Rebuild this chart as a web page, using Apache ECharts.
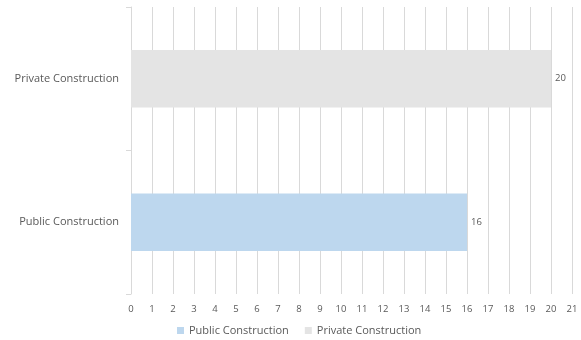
<!DOCTYPE html>
<html>
<head>
<meta charset="utf-8">
<script src="https://cdn.jsdelivr.net/npm/echarts@6/dist/echarts.min.js"></script>
<style>
  html, body { margin: 0; padding: 0; background: #ffffff; }
  #chart { width: 581px; height: 340px; }
</style>
</head>
<body>
<div id="chart"></div>
<script>
// Categories, bottom to top on the vertical axis
const categories = ['Public Construction', 'Private Construction'];
const seriesNames = ['Public Construction', 'Private Construction'];
// One value per series; each series occupies its own category row
const publicValues = [16, null];
const privateValues = [null, 20];
const axisMax = 21;

const chart = echarts.init(document.getElementById('chart'), null, { renderer: 'canvas' });
const fontFamily = '"Open Sans", "Noto Sans", sans-serif';
const textColor = '#595959';
const gridColor = '#D9D9D9';

chart.setOption({
  animation: false,
  textStyle: { fontFamily: fontFamily },
  grid: { left: 131, right: 9, top: 7, bottom: 46, containLabel: false },
  legend: {
    left: 172,
    top: 320,
    itemWidth: 7,
    itemHeight: 7,
    itemGap: 16,
    icon: 'rect',
    textStyle: { color: textColor, fontSize: 11, fontFamily: fontFamily },
    data: seriesNames
  },
  xAxis: {
    type: 'value',
    min: 0,
    max: axisMax,
    interval: 1,
    axisLine: { show: false },
    axisTick: { show: false },
    axisLabel: { color: textColor, fontSize: 9.5, margin: 10, fontFamily: fontFamily },
    splitLine: { show: true, lineStyle: { color: gridColor, width: 1 } }
  },
  yAxis: {
    type: 'category',
    data: categories,
    axisLine: { show: true, lineStyle: { color: gridColor } },
    axisTick: { show: true, length: 5, lineStyle: { color: gridColor } },
    axisLabel: { color: textColor, fontSize: 11, margin: 12, fontFamily: fontFamily }
  },
  series: [
    {
      name: seriesNames[0],
      type: 'bar',
      stack: 'total',
      data: publicValues,
      barWidth: '40%',
      itemStyle: { color: '#BDD7EE' },
      label: { show: true, position: 'right', color: textColor, fontSize: 9.5, distance: 4, fontFamily: fontFamily }
    },
    {
      name: seriesNames[1],
      type: 'bar',
      stack: 'total',
      data: privateValues,
      barWidth: '40%',
      itemStyle: { color: '#E4E4E4' },
      label: { show: true, position: 'right', color: textColor, fontSize: 9.5, distance: 4, fontFamily: fontFamily }
    }
  ]
});
</script>
</body>
</html>
